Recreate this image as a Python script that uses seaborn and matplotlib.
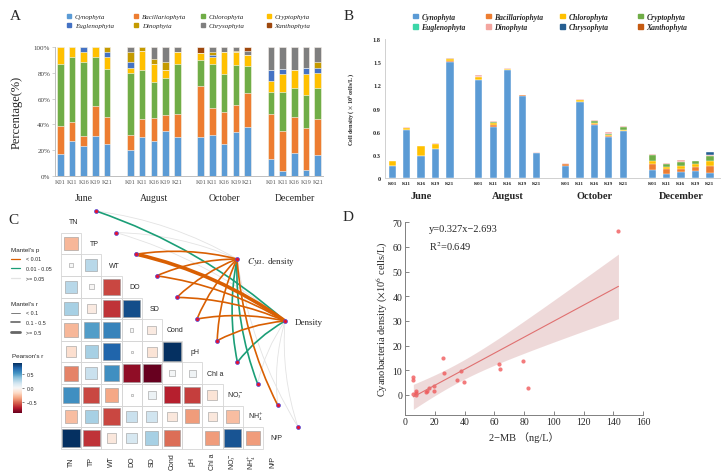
import numpy as np
import pandas as pd
import matplotlib
matplotlib.use("Agg")
import matplotlib.pyplot as plt
import matplotlib.transforms as mtransforms
import seaborn as sns
from matplotlib.path import Path
from matplotlib.patches import PathPatch, Patch, Rectangle
from matplotlib.lines import Line2D
from matplotlib.colors import Normalize
from matplotlib.cm import ScalarMappable

# ---------------- data ----------------
months = ["June", "August", "October", "December"]
stations = ["K01", "K11", "K16", "K19", "K21"]
phyla = ["Cynophyta", "Bacillariophyta", "Chlorophyta", "Cryptophyta",
         "Euglenophyta", "Dinophyta", "Chrysophyta", "Xanthophyta"]

# A: relative abundance (%)  June K01..K21, August, October, December
pct_cyn = [17, 27, 23, 31, 25, 20, 30, 27, 35, 30, 30, 32, 25, 34, 38, 13, 4, 18, 5, 16]
pct_bac = [22, 15, 8, 23, 21, 12, 14, 18, 12, 18, 40, 21, 25, 21, 26, 35, 31, 28, 32, 28]
pct_chl = [48, 50, 57, 38, 37, 48, 38, 28, 29, 39, 20, 34, 29, 31, 21, 17, 30, 22, 26, 24]
pct_cry = [13, 8, 8, 8, 9, 4, 15, 14, 6, 9, 5, 5, 17, 10, 9, 9, 14, 14, 16, 12]
pct_eug = [0, 0, 4, 0, 4, 4, 0, 0, 0, 0, 0, 2, 0, 0, 0, 8, 4, 0, 5, 4]
pct_dino = [0, 0, 0, 0, 4, 8, 3, 4, 6, 0, 0, 2.5, 0, 1, 0, 0, 0, 0, 0, 4]
pct_chry = [0, 0, 0, 0, 0, 4, 0, 9, 12, 4, 0, 3.5, 4, 3, 3, 18, 17, 18, 16, 12]
pct_xan = [0, 0, 0, 0, 0, 0, 0, 0, 0, 0, 5, 0, 0, 0, 3, 0, 0, 0, 0, 0]

# B: cell density (x10^6 cells/L)
den_cyn = [.16, .62, .29, .37, 1.50, 1.27, .655, 1.40, 1.065, .318,
           .155, .98, .69, .53, .607, .11, .047, .073, .095, .062]
den_bac = [0, .005, 0, .01, .015, .005, .025, .005, .01, 0,
           .02, .01, .005, .01, 0, .075, .07, .05, .05, .095]
den_chl = [.055, .02, .125, .055, .02, .035, .035, .01, 0, .012,
           .01, .02, .02, .015, .01, .03, .03, .03, .035, .065]
den_cry = [0, 0, 0, 0, 0, 0, .005, 0, 0, 0,
           0, 0, .025, .02, .04, .08, .03, .06, .035, .065]
den_eug = [0, 0, 0, 0, 0, 0, 0, 0, 0, 0,
           0, 0, 0, 0, .005, 0, 0, 0, 0, 0]
den_dino = [.005, .015, .005, .015, .01, .02, .02, .01, .005, .01,
            .01, .015, .015, .02, .01, .02, .02, .02, .01, .015]
den_chry = [0, 0, 0, 0, 0, 0, 0, 0, 0, 0,
            0, 0, 0, 0, 0, 0, 0, 0, 0, .03]
den_xan = [0, 0, 0, 0, .005, 0, 0, 0, 0, 0,
           0, 0, 0, 0, 0, 0, 0, 0, 0, 0]
den_ticks = [0, 0.3, 0.6, 0.9, 1.2, 1.5, 1.8]
den_ticklabels = ["0", "0.3", "0.6", "0.9", "1.2", "1.5", "1.8"]

# C: environmental factors, Pearson's r (lower triangle) and Mantel tests
env = ["TN", "TP", "WT", "DO", "SD", "Cond", "pH", "Chl a",
       r"NO$_3^-$", r"NH$_4^+$", "N/P"]
pearson_rows = [
    [],
    [-0.3],
    [0.005, 0.25],
    [0.25, -0.01, -0.6],
    [0.3, -0.08, -0.65, 0.8],
    [-0.3, 0.5, 0.6, 0.003, -0.08],
    [-0.15, 0.3, 0.72, 0.0005, -0.12, 0.92],
    [-0.45, 0.2, 0.55, -0.8, -0.92, 0.02, 0.04],
    [0.55, -0.6, -0.35, 0.0005, 0.05, -0.7, -0.62, -0.12],
    [-0.28, 0.3, -0.6, 0.2, 0.18, -0.1, -0.38, -0.1, -0.28],
    [0.9, -0.65, -0.1, 0.15, 0.3, -0.5, 0.0, -0.38, 0.78, -0.38],
]
mantel_r_cya = [0.05, 0.03, 0.35, 0.3, 0.32, 0.3, 0.28, 0.2, 0.2, 0.25, 0.05]
mantel_p_cya = [0.2, 0.3, 0.001, 0.001, 0.001, 0.001, 0.001, 0.02, 0.03, 0.005, 0.4]
mantel_r_den = [0.2, 0.05, 0.55, 0.3, 0.3, 0.3, 0.3, 0.2, 0.05, 0.04, 0.03]
mantel_p_den = [0.03, 0.3, 0.001, 0.002, 0.002, 0.003, 0.004, 0.02, 0.2, 0.3, 0.5]

# D: 2-MB vs cyanobacteria density
mb = [5.6, 5.6, 5.6, 7.2, 7.2, 7.4, 14.1, 14.5, 16.0, 19.4, 19.4,
      25.7, 26.2, 34.7, 37.4, 39.4, 62.9, 64.0, 79.0, 83.0, 143.5]
cya = [7.2, 6.2, 0.4, 1.8, 1.0, 0.0, 1.1, 1.7, 2.8, 1.5, 3.7,
       15.0, 8.9, 6.0, 9.8, 5.2, 12.7, 10.6, 13.9, 3.0, 66.5]

# ---------------- style ----------------
sns.set_theme(style="white")
plt.rcParams["font.family"] = ["Liberation Serif", "DejaVu Sans"]
plt.rcParams["mathtext.fontset"] = "stix"

W, H = 724, 477


def fx(px):
    return px / W


def fy(py):
    return 1 - py / H


def box(l, t, r, b):
    return [fx(l), fy(b), (r - l) / W, (b - t) / H]


colors_a = ["#5B9BD5", "#ED7D31", "#70AD47", "#FFC000",
            "#4472C4", "#C49A00", "#7F7F7F", "#9E480E"]
colors_b = ["#5B9BD5", "#ED7D31", "#FFC000", "#70AD47",
            "#3CD6A8", "#F4A6A0", "#255E91", "#C55A11"]

fig = plt.figure(figsize=(7.24, 4.77), dpi=100)

pos = [g * 6 + k for g in range(len(months)) for k in range(len(stations))]
tick_lab = stations * len(months)
centers = [g * 6 + 2 for g in range(len(months))]

# ---------------- A ----------------
pctA = pd.DataFrame(dict(zip(phyla, [pct_cyn, pct_bac, pct_chl, pct_cry,
                                     pct_eug, pct_dino, pct_chry, pct_xan])))
cumA = pctA.cumsum(axis=1)
axA = fig.add_axes(box(55, 48, 323, 177))
for name, c in list(zip(phyla, colors_a))[::-1]:
    sns.barplot(x=pos, y=cumA[name].values, color=c, native_scale=True,
                width=0.56, saturation=1, errorbar=None,
                edgecolor="white", linewidth=0.4, ax=axA)
axA.set_xlim(-0.45, 22.45)
axA.set_ylim(0, 100)
axA.set_xticks(pos)
axA.set_xticklabels(tick_lab, fontsize=4.5, color="#595959")
axA.set_yticks(range(0, 101, 20))
axA.set_yticklabels([f"{v}%" for v in range(0, 101, 20)], fontsize=5, color="#404040")
axA.tick_params(axis="x", length=0, pad=2)
axA.tick_params(axis="y", length=2, width=0.5, color="#BFBFBF", pad=1.5, left=True)
for s in ["top", "right"]:
    axA.spines[s].set_visible(False)
for s in ["left", "bottom"]:
    axA.spines[s].set_color("#BFBFBF")
    axA.spines[s].set_linewidth(0.7)
axA.set_xlabel("")
axA.set_ylabel("Percentage(%)", fontsize=9)
axA.yaxis.set_label_coords(-0.12, 0.5)
trA = mtransforms.blended_transform_factory(axA.transData, axA.transAxes)
for c, m in zip(centers, months):
    axA.text(c, -0.165, m, transform=trA, ha="center", va="center", fontsize=7)

for j, x in enumerate([67, 134, 201, 267]):
    fig.legend(handles=[Patch(color=colors_a[j]), Patch(color=colors_a[j + 4])],
               labels=[phyla[j], phyla[j + 4]], loc="center left",
               bbox_to_anchor=(fx(x), fy(22)), frameon=False,
               prop=dict(family="Liberation Serif", style="italic", size=5),
               handlelength=0.6, handleheight=0.6, handletextpad=0.5,
               labelspacing=0.45, borderpad=0, borderaxespad=0)

# ---------------- B ----------------
denB = pd.DataFrame(dict(zip(phyla, [den_cyn, den_bac, den_chl, den_cry,
                                     den_eug, den_dino, den_chry, den_xan])))
cumB = denB.cumsum(axis=1)
axB = fig.add_axes(box(385, 40, 720, 179))
for name, c in list(zip(phyla, colors_b))[::-1]:
    sns.barplot(x=pos, y=cumB[name].values, color=c, native_scale=True,
                width=0.5, saturation=1, errorbar=None,
                edgecolor="white", linewidth=0.3, ax=axB)
axB.set_xlim(-0.5, 22.7)
axB.set_ylim(0, 1.8)
axB.set_xticks(pos)
axB.set_xticklabels(tick_lab, fontsize=3.8, fontweight="bold")
axB.set_yticks(den_ticks)
axB.set_yticklabels(den_ticklabels, fontsize=4.5, fontweight="bold")
axB.tick_params(axis="x", length=0, pad=2)
axB.tick_params(axis="y", length=0, pad=3)
for s in ["top", "right"]:
    axB.spines[s].set_visible(False)
for s in ["left", "bottom"]:
    axB.spines[s].set_color("#D0D0D0")
    axB.spines[s].set_linewidth(0.7)
axB.set_xlabel("")
axB.set_ylabel(r"Cell density ( $\times$ 10$^6$cells/L )", fontsize=4.5, fontweight="bold")
axB.yaxis.set_label_coords(-0.084, 0.5)
trB = mtransforms.blended_transform_factory(axB.transData, axB.transAxes)
for c, m in zip(centers, months):
    axB.text(c, -0.125, m, transform=trB, ha="center", va="center",
             fontsize=7.5, fontweight="bold")

for j, x in enumerate([413, 486, 560, 638]):
    fig.legend(handles=[Patch(color=colors_b[j]), Patch(color=colors_b[j + 4])],
               labels=[phyla[j], phyla[j + 4]], loc="center left",
               bbox_to_anchor=(fx(x), fy(23)), frameon=False,
               prop=dict(family="Liberation Serif", style="italic", weight="bold", size=5.5),
               handlelength=0.6, handleheight=0.6, handletextpad=0.5,
               labelspacing=0.35, borderpad=0, borderaxespad=0)

# ---------------- C ----------------
axC = fig.add_axes(box(0, 205, 360, 477))
axC.set_xlim(0, 360)
axC.set_ylim(477, 205)
axC.axis("off")

col0, cw = 71, 20.2
row0, rh = 223, 21.6
cells = pd.DataFrame([(i, j, r) for i, row in enumerate(pearson_rows)
                      for j, r in enumerate(row)], columns=["row", "col", "r"])
cells["x"] = col0 + cw * cells["col"]
cells["y"] = row0 + rh * cells["row"]
cells["sz"] = cells["r"].abs() ** 0.6

for x, y in zip(cells["x"], cells["y"]):
    axC.add_patch(Rectangle((x - cw / 2, y - rh / 2), cw, rh, fill=False,
                            ec="#D6D6D6", lw=0.6, zorder=1))
sns.scatterplot(data=cells, x="x", y="y", hue="r", size="sz", palette="RdBu",
                hue_norm=(-0.9, 0.9), sizes=(0, 185), size_norm=(0, 1),
                marker="s", edgecolor="#9A9A9A", linewidth=0.4, legend=False,
                ax=axC, zorder=2)
axC.set_xlabel("")
axC.set_ylabel("")

for i, lab in enumerate(env):
    axC.text(col0 + cw * i + 3, row0 + rh * i, lab, ha="center", va="center",
             fontsize=5, family="Liberation Sans")
    axC.text(col0 + cw * i, 462, lab, ha="center", va="center", rotation=90,
             fontsize=5, family="Liberation Sans")

node_x = [col0 + cw * i + 25 for i in range(len(env))]
node_y = [row0 + rh * i - 11 for i in range(len(env))]
targets = {"cya": (237, 260), "den": (285, 322)}

links = pd.DataFrame({
    "i": list(range(len(env))) * 2,
    "target": ["cya"] * len(env) + ["den"] * len(env),
    "r": mantel_r_cya + mantel_r_den,
    "p": mantel_p_cya + mantel_p_den,
})
links["pcls"] = pd.cut(links["p"], [0, 0.01, 0.05, 1], right=False, labels=[0, 1, 2]).astype(int)
links["rcls"] = pd.cut(links["r"], [-1, 0.1, 0.5, 1], right=False, labels=[0, 1, 2]).astype(int)
p_colors = ["#D95F02", "#1B9E77", "#E3E3E3"]
r_widths = [0.6, 1.2, 2.6]

for _, lk in links.sort_values("p", ascending=False).iterrows():
    x0, y0 = node_x[lk["i"]], node_y[lk["i"]]
    x1, y1 = targets[lk["target"]]
    dx, dy = x1 - x0, y1 - y0
    cx, cy = (x0 + x1) / 2 + 0.1 * dy, (y0 + y1) / 2 - 0.1 * dx
    path = Path([(x0, y0), (cx, cy), (x1, y1)], [Path.MOVETO, Path.CURVE3, Path.CURVE3])
    axC.add_patch(PathPatch(path, fill=False, ec=p_colors[lk["pcls"]],
                            lw=r_widths[lk["rcls"]], zorder=3, capstyle="round"))

all_nx = node_x + [targets["cya"][0], targets["den"][0]]
all_ny = node_y + [targets["cya"][1], targets["den"][1]]
sns.scatterplot(x=all_nx, y=all_ny, color="#E8112D", edgecolor="#4B4BE0",
                s=8, linewidth=0.5, ax=axC, zorder=4, legend=False)
axC.text(247, 262, r"$\it{Cya.}$ density", ha="left", va="center", fontsize=6.5)
axC.text(295, 323, "Density", ha="left", va="center", fontsize=6.5)

sans_small = dict(family="Liberation Sans", size=3.8)
sans_title = dict(family="Liberation Sans", size=4.5)
leg_p = axC.legend(handles=[Line2D([0], [0], color=c, lw=0.9) for c in p_colors],
                   labels=["< 0.01", "0.01 - 0.05", ">= 0.05"], title="Mantel's p",
                   loc="upper left", bbox_to_anchor=(fx(8), fy(245)),
                   bbox_transform=fig.transFigure, frameon=False, prop=sans_small,
                   title_fontproperties=sans_title, alignment="left",
                   handlelength=1.8, handletextpad=1.2, labelspacing=0.9, borderpad=0)
axC.add_artist(leg_p)
axC.legend(handles=[Line2D([0], [0], color="#666666", lw=w) for w in [0.6, 1.2, 2.0]],
           labels=["< 0.1", "0.1 - 0.5", ">= 0.5"], title="Mantel's r",
           loc="upper left", bbox_to_anchor=(fx(8), fy(299)),
           bbox_transform=fig.transFigure, frameon=False, prop=sans_small,
           title_fontproperties=sans_title, alignment="left",
           handlelength=1.8, handletextpad=1.2, labelspacing=0.9, borderpad=0)

cax = fig.add_axes(box(13, 364, 22, 414))
cb = fig.colorbar(ScalarMappable(norm=Normalize(-0.9, 0.9), cmap="RdBu"),
                  cax=cax, ticks=[-0.5, 0, 0.5])
cb.ax.set_yticklabels(["\u22120.5", "0.0", "0.5"], fontsize=3.8, family="Liberation Sans")
cb.ax.tick_params(length=1.5, width=0.4, pad=2)
cb.outline.set_visible(False)
fig.text(fx(12), fy(357), "Pearson's r", ha="left", va="center",
         fontsize=4.5, family="Liberation Sans")

# ---------------- D ----------------
axD = fig.add_axes(box(405, 223.3, 643, 415.7))
sns.regplot(x=mb, y=cya, ci=None, truncate=True,
            scatter_kws=dict(s=9, color="#F05A5B", linewidths=0),
            line_kws=dict(color="#E07070", lw=0.8), ax=axD)
xa, ya = np.array(mb), np.array(cya)
slope, icpt = np.polyfit(xa, ya, 1)
n = len(xa)
resid = ya - (slope * xa + icpt)
s_err = np.sqrt((resid ** 2).sum() / (n - 2))
xs = np.linspace(xa.min(), xa.max(), 100)
t_crit = 2.093  # t(0.975, df=19)
half = t_crit * s_err * np.sqrt(1 / n + (xs - xa.mean()) ** 2 / ((xa - xa.mean()) ** 2).sum())
axD.fill_between(xs, slope * xs + icpt - half, slope * xs + icpt + half,
                 color="#C98484", alpha=0.3, lw=0, zorder=0)
axD.set_xlim(0, 160)
axD.set_ylim(-8, 70)
axD.set_xticks(range(0, 161, 20))
axD.set_yticks(range(0, 71, 10))
axD.tick_params(direction="in", length=3, width=0.6, color="#707070",
                labelsize=7, left=True, bottom=True, pad=2)
for s in ["top", "right"]:
    axD.spines[s].set_visible(False)
for s in ["left", "bottom"]:
    axD.spines[s].set_color("#808080")
    axD.spines[s].set_linewidth(0.7)
axD.set_xlabel("2\u2212MB \uff08ng/L\uff09", fontsize=7.5,
               family=["Liberation Serif", "Noto Sans CJK SC"], labelpad=3)
axD.set_ylabel(r"Cyanobacteria density ($\times$10$^6$ cells/L)", fontsize=7.5, labelpad=2)
axD.text(16, 67.5, "y=0.327x\u22122.693", ha="left", va="center", fontsize=7.5)
axD.text(16, 60.5, r"R$^2$=0.649", ha="left", va="center", fontsize=7.5)

# ---------------- panel letters ----------------
for lab, x, y in [("A", 15, 17), ("B", 349, 17), ("C", 13, 220), ("D", 348, 218)]:
    fig.text(fx(x), fy(y), lab, ha="center", va="center", fontsize=11)

fig.savefig("out.png", dpi=100)
